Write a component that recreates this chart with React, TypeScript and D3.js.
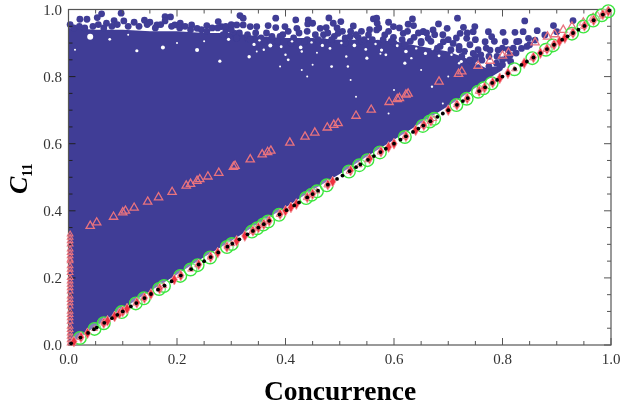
import { scaleLinear, range, area as d3area, symbol, symbolTriangle, symbolDiamond } from "d3";

// solid part of the cloud
const bodyX = [0, .05, .1, .15, .2, .25, .3, .35, .4, .45, .5, .55, .6, .65, .7, .74, .77, .8];
const bodyTop = [.945, .94, .94, .935, .935, .93, .93, .92, .915, .915, .91, .91, .905, .89, .875, .85, .825, .83];
const bodyBottom = [0, .055, .108, .16, .21, .262, .31, .362, .41, .462, .51, .562, .612, .662, .712, .755, .79, .82];

// loose dots along the top of the cloud
const dotX = [.003, .061, .097, .021, .034, .053, .07, .084, .102, .121, .14, .15, .178, .188, .178, .206, .227, .237, .255, .276, .282, .316, .322, .31, .322, .29, .307, .163, .196,
  .382, .419, .442, .441, .45, .48, .502, .488, .525, .562, .568, .569, .59, .599, .634, .626, .636, .654, .335, .347, .368, .382, .399, .421, .464, .475, .497, .519, .534, .553, .568, .583, .599, .617, .637, .663,
  .717, .682, .654, .672, .698, .728, .749, .746, .722, .774, .801, .823, .841, .838, .864, .894, .9, .93, .734, .768, .78, .805, .826, .848, .86, .878, .746, .777, .792, .814, .835, .762, .789, .808, .743, .709, .691,
  .33, .36, .39, .41, .44, .47, .49, .51, .54, .57, .6, .62, .65, .68, .72, .75, .795,
  .285, .3, .315, .33, .345, .31, .335, .355, .365, .375, .385,
  .395, .405, .415, .425, .435, .44, .455, .46, .47, .478,
  .485, .495, .505, .51, .52, .53, .54, .545, .555, .56,
  .572, .58, .59, .595, .61, .615, .625, .63, .645, .65,
  .66, .668, .675, .685, .69, .7, .705, .715, .72, .73,
  .735, .74, .75, .755, .76, .77, .775, .785, .79, .8, .8, .81, .82, .825, .83, .845, .85,
  .775, .785, .8, .815, .74, .75, .725,
  .01, .02, .03, .045, .055, .065, .08, .09, .11, .13, .145, .16, .17, .19, .205, .215, .225, .245, .255, .265, .275, .29, .3];
const dotY = [.955, .987, .989, .971, .971, .976, .959, .967, .966, .962, .968, .962, .979, .978, .966, .959, .954, .944, .952, .964, .949, .982, .974, .954, .954, .939, .929, .954, .954,
  .974, .969, .969, .957, .959, .975, .964, .959, .951, .972, .974, .959, .962, .949, .972, .956, .952, .934, .949, .949, .952, .946, .949, .944, .944, .946, .929, .919, .917, .924, .939, .924, .917, .929, .917, .914,
  .974, .957, .934, .939, .944, .947, .949, .934, .929, .934, .932, .932, .966, .934, .937, .952, .934, .967, .914, .904, .919, .904, .904, .914, .909, .924, .869, .879, .879, .864, .884, .849, .84, .855, .844, .899, .904,
  .915, .905, .92, .9, .91, .905, .92, .9, .905, .9, .9, .895, .9, .885, .88, .86, .83,
  .925, .94, .93, .925, .93, .915, .91, .915, .93, .92, .905,
  .925, .935, .915, .93, .905, .935, .925, .91, .925, .93,
  .91, .945, .935, .915, .935, .925, .935, .91, .94, .91,
  .945, .91, .935, .905, .945, .91, .935, .905, .93, .905,
  .93, .905, .925, .89, .925, .91, .88, .915, .89, .875,
  .93, .895, .91, .88, .865, .885, .86, .905, .86, .885, .85, .88, .885, .87, .905, .89, .895,
  .83, .82, .835, .845, .85, .85, .86,
  .945, .95, .945, .95, .955, .945, .95, .955, .95, .95, .955, .945, .955, .95, .945, .95, .94, .94, .935, .945, .945, .95, .955];

// white gaps inside the cloud
const holeX = [.04, .126, .174, .237, .076, .279, .295, .333, .36, .405, .43, .45, .485, .515, .55, .585, .62, .65, .39, .44, .53, .6, .67, .7, .72, .69, .74, .66, .52, .59, .43, .012, .11, .25, .2,
  .342, .352, .372, .392, .412, .428, .448, .468, .482, .503, .527, .548, .566, .577, .606, .622, .641, .658, .671, .683, .706, .724, .737, .753, .347, .4, .458, .512, .575, .632];
const holeY = [.919, .877, .887, .879, .911, .846, .911, .859, .88, .85, .82, .835, .83, .83, .855, .865, .84, .82, .83, .8, .74, .76, .77, .8, .84, .72, .73, .66, .79, .69, .875, .88, .925, .905, .9,
  .896, .908, .893, .889, .905, .887, .902, .893, .884, .9, .893, .881, .897, .879, .892, .875, .884, .869, .882, .862, .865, .845, .87, .84, .875, .865, .871, .86, .868, .855];
const holeR = [3, 1.6, 2, 2, 1.4, 1.6, 1.6, 1.7, 1.2, 1.4, 1, 1, 1.4, 1.2, 1.6, 1.4, 1.6, 1, 1, 1, 1, 1, 1.2, 1, 1.2, 1, 1, 1.2, 1, 1, 1.2, 1, 1, 1, 1,
  1.6, 1.2, 2, 1.4, 1.2, 1.8, 1.2, 1.6, 1.4, 1.2, 1.8, 1.4, 1.2, 1.6, 1.4, 1.8, 1.2, 1.6, 1.2, 1.4, 1.2, 1.6, 1.2, 1.4, 1, 1.2, 1, 1.2, 1, 1.2];

// triangles running through the middle of the cloud
const midX = [.04, .052, .083, .1, .105, .121, .146, .166, .191, .217, .225, .237, .242, .257, .277, .304, .307, .335, .357, .367, .373, .408, .436, .454, .477, .489, .497, .53, .558, .591, .606, .61, .622, .626, .683, .719, .725, .755, .777, .8, .811, .86, .883, .896, .912, .928, .949, .967, .975];
const midY = [.355, .365, .382, .395, .4, .409, .427, .44, .456, .475, .48, .489, .494, .502, .513, .531, .534, .553, .568, .575, .579, .603, .621, .633, .648, .656, .661, .683, .701, .724, .733, .736, .746, .749, .785, .808, .815, .832, .847, .862, .871, .902, .919, .926, .939, .949, .961, .974, .98];
// triangles stacked on the left axis
const edgeY = [.33, .32, .31, .3, .285, .275, .265, .255, .25, .235, .225, .215, .2, .19, .18, .17, .16, .145, .135, .125, .115, .1, .09, .08, .07, .055, .045, .035, .025, .015, .005];

// markers sitting on the diagonal
const circleX = [.021, .048, .065, .098, .124, .139, .167, .176, .206, .225, .238, .261, .292, .301, .338, .348, .359, .368, .388, .438, .448, .458, .476, .517, .536, .551, .574, .62, .653, .666, .674, .715, .734, .755, .765, .78, .822, .855, .88, .893, .928, .949, .967, .983, .995];
const redX = [.01, .023, .035, .065, .072, .085, .094, .1, .108, .126, .14, .152, .168, .195, .207, .24, .262, .275, .292, .31, .325, .34, .35, .36, .37, .39, .4, .41, .42, .44, .45, .478, .487, .52, .555, .576, .59, .6, .622, .64, .655, .668, .7, .716, .735, .757, .767, .782, .795, .81, .84, .857, .87, .882, .895, .905, .915, .93, .951, .968, .985, .995];
const blackX = [.005, .022, .036, .047, .052, .066, .08, .09, .1, .115, .125, .14, .152, .165, .177, .19, .207, .226, .24, .25, .262, .276, .293, .302, .315, .33, .34, .35, .36, .37, .389, .402, .416, .425, .44, .45, .46, .478, .495, .505, .518, .53, .538, .552, .563, .575, .585, .6, .612, .622, .635, .645, .654, .667, .68, .69, .7, .716, .727, .736, .757, .768, .781, .79, .8, .81, .823, .835, .845, .857, .87, .882, .895, .91, .92, .93, .94, .951, .968, .985, .997];

const xTicks = ["0.0", "0.2", "0.4", "0.6", "0.8", "1.0"];

const W = 621, H = 406;
const L = 68.5, R = 611, T = 9.5, B = 345;
const SERIF = "'Liberation Serif', serif";
const BLUE = "#3f3c96", AXIS = "#555", PINK = "#e9737e";

export default function App() {
  const x = scaleLinear().domain([0, 1]).range([L, R]);
  const y = scaleLinear().domain([0, 1]).range([B, T]);
  const bodyPath = d3area<number>().x(d => x(bodyX[d])).y0(d => y(bodyBottom[d])).y1(d => y(bodyTop[d]))(bodyX.map((_, i) => i)) ?? "";
  const tri = symbol().type(symbolTriangle).size(30)() ?? "";
  const triSmall = symbol().type(symbolTriangle).size(14)() ?? "";
  const diamond = symbol().type(symbolDiamond).size(34)() ?? "";
  const minor = range(0, 21).map(i => i / 20);
  const tickLen = (i: number) => (i % 4 === 0 ? 7 : 4);
  return (
    <svg width={W} height={H} viewBox={`0 0 ${W} ${H}`} style={{ position: "absolute", left: 0, top: 0 }}>
      <defs>
        <filter id="soft" x="0" y="0" width="100%" height="100%">
          <feGaussianBlur stdDeviation={0.45} />
        </filter>
      </defs>
      <rect width={W} height={H} fill="#fff" />
      <g filter="url(#soft)">
        <path d={bodyPath} fill={BLUE} />
        {dotX.map((d, i) => <circle key={i} cx={x(d)} cy={y(dotY[i])} r={3.4} fill={BLUE} />)}
        {holeX.map((d, i) => <circle key={i} cx={x(d)} cy={y(holeY[i])} r={holeR[i]} fill="#fff" />)}

        {minor.map((t, i) => (
          <g key={t} stroke={AXIS} strokeWidth={1}>
            <line x1={x(t)} x2={x(t)} y1={B} y2={B - tickLen(i)} />
            <line x1={x(t)} x2={x(t)} y1={T} y2={T + tickLen(i)} />
            <line x1={L} x2={L + tickLen(i)} y1={y(t)} y2={y(t)} stroke="#222" />
            <line x1={R} x2={R - tickLen(i)} y1={y(t)} y2={y(t)} />
          </g>
        ))}
        <rect x={L} y={T} width={R - L} height={B - T} fill="none" stroke={AXIS} strokeWidth={1.2} />

        {edgeY.map((d, i) => <path key={i} d={triSmall} transform={`translate(${x(.003)},${y(d)})`} fill="none" stroke={PINK} strokeWidth={1.1} />)}
        {midX.map((d, i) => <path key={i} d={tri} transform={`translate(${x(d)},${y(midY[i])})`} fill="none" stroke={PINK} strokeWidth={1.3} />)}
        {circleX.map((d, i) => <circle key={i} cx={x(d)} cy={y(d)} r={6.3} fill="#fff" fillOpacity={0.35} stroke="#3ce63f" strokeWidth={1.4} />)}
        {redX.map((d, i) => <path key={i} d={diamond} transform={`translate(${x(d)},${y(d)})`} fill="#ee3340" stroke="#f59aa0" strokeWidth={0.8} />)}
        {circleX.map((d, i) => <path key={i} d={triSmall} transform={`translate(${x(d)},${y(d)})`} fill="none" stroke={PINK} strokeWidth={1} />)}
        {blackX.map((d, i) => <circle key={i} cx={x(d)} cy={y(d)} r={1.9} fill="#000" />)}

        {xTicks.map(t => (
          <text key={t} x={x(+t)} y={364} textAnchor="middle" fontFamily={SERIF} fontSize={15} fill="#333">{t}</text>
        ))}
        {xTicks.map(t => (
          <text key={t} x={62} y={y(+t) + 5} textAnchor="end" fontFamily={SERIF} fontSize={15} fill="#333">{t}</text>
        ))}
        <text x={340} y={400} textAnchor="middle" fontFamily={SERIF} fontSize={27.5} fontWeight="bold" fill="#000">Concurrence</text>
        <text transform="translate(27,194) rotate(-90)" fontFamily={SERIF} fontWeight="bold" fill="#000">
          <tspan fontSize={26} fontStyle="italic">C</tspan>
          <tspan fontSize={14} dy={5}>11</tspan>
        </text>
      </g>
    </svg>
  );
}
